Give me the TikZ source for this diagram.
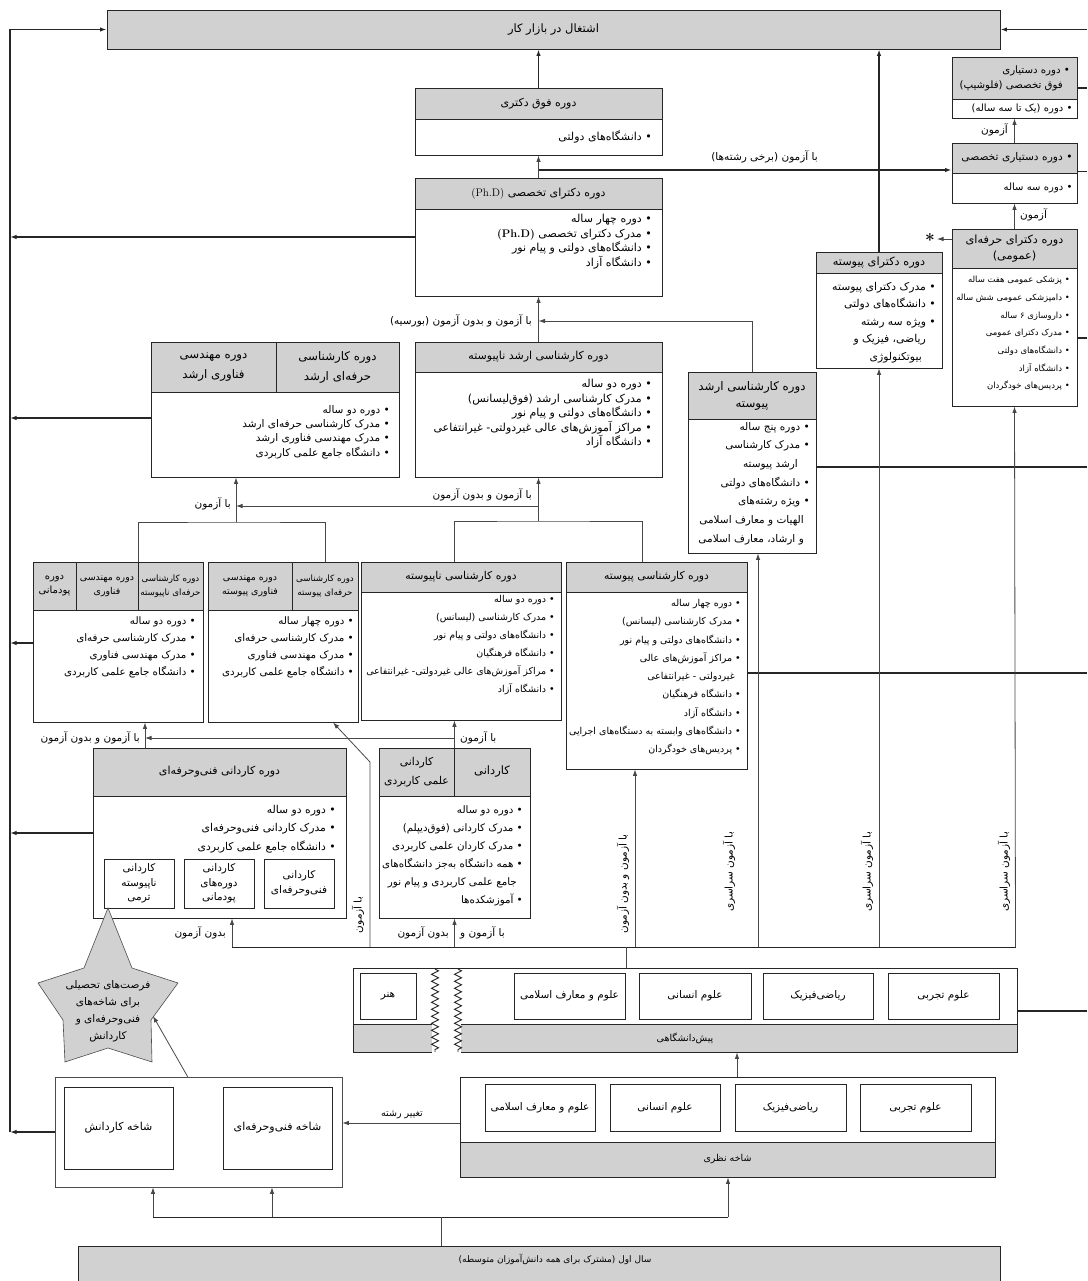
\documentclass[tikz,border=0pt]{standalone}
\usepackage{fontspec}
\usetikzlibrary{arrows.meta,decorations.pathmorphing}
\TeXXeTstate=1
\newfontfamily\fafont[Script=Arabic]{DejaVu Sans}
\newcommand{\rl}[1]{\beginR #1\endR}
\newcommand{\fs}[2]{\fafont\fontsize{#1}{#2}\selectfont}
\definecolor{hdgray}{gray}{0.82}
\definecolor{ln}{gray}{0.15}
\begin{document}
\begin{tikzpicture}[x=1pt, y=-1pt,
    hd/.style={draw=ln, fill=hdgray, line width=0.9pt, inner sep=0pt, align=center, font=\fs{11}{14}},
    bd/.style={draw=ln, line width=0.9pt, inner sep=0pt, align=right, font=\fs{10}{14}},
    sub/.style={draw=ln, line width=0.9pt, inner sep=0pt, align=center, font=\fs{10.5}{14.5}},
    lst/.style={align=right, inner sep=0pt, font=\fs{11}{14.5}},
    lbl/.style={inner sep=1pt, font=\fs{10.5}{12}},
    thk/.style={line width=1.8pt, draw=ln},
    thn/.style={line width=0.8pt, draw=black!72},
    >={Latex[length=6.5pt,width=4.5pt]}]
\useasboundingbox (0,0) rectangle (1087,1281);

\node[hd, minimum width=893pt, minimum height=39pt, font=\fs{11.5}{14}] (work) at (553.5,29.5) {\rl{اشتغال در بازار کار}};

\node[hd, minimum width=247pt, minimum height=31pt] (postH) at (538.5,103.5) {\rl{دوره فوق دکتری}};
\node[bd, minimum width=247pt, minimum height=36pt] (postB) at (538.5,137) {};
\node[lst, anchor=east] (postT) at (652,137) {\rl{• دانشگاه^^^^200cهای دولتی}};

\node[hd, minimum width=247pt, minimum height=31pt] (phdH) at (538.5,193.5) {\rl{دوره دکترای تخصصی {\rmfamily\beginL(Ph.D)\endL}}};
\node[bd, minimum width=247pt, minimum height=87pt] (phdB) at (538.5,252.5) {};
\node[lst, anchor=north east] (phdT) at (652,214) {\rl{• دوره چهار ساله}\\\rl{• مدرک دکترای تخصصی {\rmfamily\bfseries\beginL(Ph.D)\endL}}\\\rl{• دانشگاه^^^^200cهای دولتی و پیام نور}\\\rl{• دانشگاه آزاد}};

\node[hd, minimum width=125pt, minimum height=42pt, font=\fs{10.2}{15}] (felH) at (1014.5,78) {};
\node[lst, anchor=east, font=\fs{10.2}{15}] (felT) at (1070,78) {\rl{• دوره دستیاری}\\\rl{\hspace*{7pt}فوق تخصصی (فلوشیپ)}};
\node[bd, minimum width=125pt, minimum height=19pt, text width=116pt] (felB) at (1014.5,108.5) {\rl{• دوره (یک تا سه ساله)}};

\node[hd, minimum width=125pt, minimum height=30pt, text width=116pt, align=right, font=\fs{10.6}{14}] (resH) at (1014.5,158) {\rl{• دوره دستیاری تخصصی}};
\node[bd, minimum width=125pt, minimum height=30pt, text width=116pt] (resB) at (1014.5,188) {\rl{• دوره سه ساله}};

\node[hd, minimum width=125pt, minimum height=39pt, font=\fs{11.3}{16}] (dproH) at (1014.5,248.5) {\rl{دوره دکترای حرفه^^^^200cای}\\\rl{(عمومی)}};
\node[bd, minimum width=125pt, minimum height=138pt] (dproB) at (1014.5,337) {};
\node[lst, anchor=north east, font=\fs{8.5}{17.7}] (dproT) at (1070,276) {\rl{• پزشکی عمومی هفت ساله}\\\rl{• دامپزشکی عمومی شش ساله}\\\rl{• داروسازی ۶ ساله}\\\rl{• مدرک دکترای عمومی}\\\rl{• دانشگاه^^^^200cهای دولتی}\\\rl{• دانشگاه آزاد}\\\rl{• پردیس^^^^200cهای خودگردان}};

\node[hd, minimum width=126pt, minimum height=21pt, font=\fs{11.3}{13}] (dintH) at (879,262.5) {\rl{دوره دکترای پیوسته}};
\node[bd, minimum width=126pt, minimum height=95pt] (dintB) at (879,320.5) {};
\node[lst, anchor=north east, font=\fs{10.8}{17.5}] (dintT) at (936,282) {\rl{• مدرک دکترای پیوسته}\\\rl{• دانشگاه^^^^200cهای دولتی}\\\rl{• ویژه سه رشته}\\\rl{\hspace*{10pt}ریاضی، فیزیک و}\\\rl{\hspace*{14pt}بیوتکنولوژی}};

\node[hd, minimum width=128pt, minimum height=47pt, font=\fs{11.8}{17}] (mintH) at (752,395.5) {\rl{دوره کارشناسی ارشد}\\\rl{پیوسته}};
\node[bd, minimum width=128pt, minimum height=134pt] (mintB) at (752,486) {};
\node[lst, anchor=north east, font=\fs{10.5}{18.7}] (mintT) at (810,422) {\rl{• دوره پنج ساله}\\\rl{• مدرک کارشناسی}\\\rl{\hspace*{12pt}ارشد پیوسته}\\\rl{• دانشگاه^^^^200cهای دولتی}\\\rl{• ویژه رشته^^^^200cهای}\\\rl{\hspace*{6pt}الهیات و معارف اسلامی}\\\rl{\hspace*{6pt}و ارشاد، معارف اسلامی}};

\node[hd, minimum width=247pt, minimum height=30pt] (mncH) at (538.5,357) {\rl{دوره کارشناسی ارشد ناپیوسته}};
\node[bd, minimum width=247pt, minimum height=105pt] (mncB) at (538.5,424.5) {};
\node[lst, anchor=north east] (mncT) at (652,379) {\rl{• دوره دو ساله}\\\rl{• مدرک کارشناسی ارشد (فوق^^^^200cلیسانس)}\\\rl{• دانشگاه^^^^200cهای دولتی و پیام نور}\\\rl{• مراکز آموزش^^^^200cهای عالی غیردولتی- غیرانتفاعی}\\\rl{• دانشگاه آزاد}};

\node[hd, minimum width=125pt, minimum height=50pt, font=\fs{11.8}{20}] (mprof1) at (213.5,367) {\rl{دوره مهندسی}\\\rl{فناوری ارشد}};
\node[hd, minimum width=123pt, minimum height=50pt, font=\fs{11.8}{20}] (mprof2) at (337.5,367) {\rl{دوره کارشناسی}\\\rl{حرفه^^^^200cای ارشد}};
\node[bd, minimum width=248pt, minimum height=85pt] (mprofB) at (275,434.5) {};
\node[lst, anchor=north east, font=\fs{10.5}{14.3}] (mprofT) at (390,405) {\rl{• دوره دو ساله}\\\rl{• مدرک کارشناسی حرفه^^^^200cای ارشد}\\\rl{• مدرک مهندسی فناوری ارشد}\\\rl{• دانشگاه جامع علمی کاربردی}};

\node[hd, minimum width=43pt, minimum height=48pt, font=\fs{10}{14}] (ra1) at (54.5,586) {\rl{دوره}\\\rl{پودمانی}};
\node[hd, minimum width=62pt, minimum height=48pt, font=\fs{9.4}{14}] (ra2) at (107,586) {\rl{دوره مهندسی}\\\rl{فناوری}};
\node[hd, minimum width=65pt, minimum height=48pt, font=\fs{8.7}{14}] (ra3) at (170.5,586) {\rl{دوره کارشناسی}\\\rl{حرفه^^^^200cای ناپیوسته}};
\node[bd, minimum width=170pt, minimum height=112pt] (raB) at (118,666) {};
\node[lst, anchor=north east, font=\fs{10.3}{17.3}] (raT) at (196,616) {\rl{• دوره دو ساله}\\\rl{• مدرک کارشناسی حرفه^^^^200cای}\\\rl{• مدرک مهندسی فناوری}\\\rl{• دانشگاه جامع علمی کاربردی}};

\node[hd, minimum width=84pt, minimum height=48pt, font=\fs{9.4}{14}] (rb1) at (250,586) {\rl{دوره مهندسی}\\\rl{فناوری پیوسته}};
\node[hd, minimum width=66pt, minimum height=48pt, font=\fs{8.7}{14}] (rb2) at (325,586) {\rl{دوره کارشناسی}\\\rl{حرفه^^^^200cای پیوسته}};
\node[bd, minimum width=150pt, minimum height=112pt] (rbB) at (283,666) {};
\node[lst, anchor=north east, font=\fs{10.3}{17.3}] (rbT) at (354,616) {\rl{• دوره چهار ساله}\\\rl{• مدرک کارشناسی حرفه^^^^200cای}\\\rl{• مدرک مهندسی فناوری}\\\rl{• دانشگاه جامع علمی کاربردی}};

\node[hd, minimum width=200pt, minimum height=30pt, font=\fs{10.8}{14}] (rcH) at (461,577) {\rl{دوره کارشناسی ناپیوسته}};
\node[bd, minimum width=200pt, minimum height=128pt] (rcB) at (461,656) {};
\node[lst, anchor=north east, font=\fs{9.5}{18}] (rcT) at (555,595) {\rl{• دوره دو ساله}\\\rl{• مدرک کارشناسی (لیسانس)}\\\rl{• دانشگاه^^^^200cهای دولتی و پیام نور}\\\rl{• دانشگاه فرهنگیان}\\\rl{• مراکز آموزش^^^^200cهای عالی غیردولتی- غیرانتفاعی}\\\rl{• دانشگاه آزاد}};

\node[hd, minimum width=181pt, minimum height=30pt, font=\fs{10.8}{14}] (rdH) at (656.5,577) {\rl{دوره کارشناسی پیوسته}};
\node[bd, minimum width=181pt, minimum height=177pt] (rdB) at (656.5,680.5) {};
\node[lst, anchor=north east, font=\fs{9.5}{18.3}] (rdT) at (741,599) {\rl{• دوره چهار ساله}\\\rl{• مدرک کارشناسی (لیسانس)}\\\rl{• دانشگاه^^^^200cهای دولتی و پیام نور}\\\rl{• مراکز آموزش^^^^200cهای عالی}\\\rl{\hspace*{6pt}غیردولتی - غیرانتفاعی}\\\rl{• دانشگاه فرهنگیان}\\\rl{• دانشگاه آزاد}\\\rl{• دانشگاه^^^^200cهای وابسته به دستگاه^^^^200cهای اجرایی}\\\rl{• پردیس^^^^200cهای خودگردان}};

\node[hd, minimum width=253pt, minimum height=48pt] (kfH) at (219.5,772) {\rl{دوره کاردانی فنی^^^^200cوحرفه^^^^200cای}};
\node[bd, minimum width=253pt, minimum height=122pt] (kfB) at (219.5,857) {};
\node[lst, anchor=north east, font=\fs{10.8}{18.5}] (kfT) at (336,805) {\rl{• دوره دو ساله}\\\rl{• مدرک کاردانی فنی^^^^200cوحرفه^^^^200cای}\\\rl{• دانشگاه جامع علمی کاربردی}};
\node[sub, minimum width=70pt, minimum height=49pt] (kf1) at (299,883.5) {\rl{کاردانی}\\\rl{فنی^^^^200cوحرفه^^^^200cای}};
\node[sub, minimum width=70pt, minimum height=49pt] (kf2) at (219,883.5) {\rl{کاردانی}\\\rl{دوره^^^^200cهای}\\\rl{پودمانی}};
\node[sub, minimum width=70pt, minimum height=49pt] (kf3) at (139,883.5) {\rl{کاردانی}\\\rl{ناپیوسته}\\\rl{ترمی}};

\node[hd, minimum width=75pt, minimum height=48pt, font=\fs{10.8}{19}] (kd1) at (416.5,772) {\rl{کاردانی}\\\rl{علمی کاربردی}};
\node[hd, minimum width=76pt, minimum height=48pt, font=\fs{11.5}{14}] (kd2) at (492,772) {\rl{کاردانی}};
\node[bd, minimum width=151pt, minimum height=122pt] (kdB) at (454.5,857) {};
\node[lst, anchor=north east, font=\fs{10.3}{18}] (kdT) at (523,805) {\rl{• دوره دو ساله}\\\rl{• مدرک کاردانی (فوق^^^^200cدیپلم)}\\\rl{• مدرک کاردان علمی کاربردی}\\\rl{• همه دانشگاه به^^^^200cجز دانشگاه^^^^200cهای}\\\rl{\hspace*{6pt}جامع علمی کاربردی و پیام نور}\\\rl{• آموزشکده^^^^200cها}};

\node[bd, minimum width=664pt, minimum height=84pt] (pre) at (685,1010) {};
\node[hd, minimum width=664pt, minimum height=28pt, font=\fs{9.5}{12}] (preBand) at (685,1038) {\rl{پیش^^^^200cدانشگاهی}};
\node[sub, minimum width=56pt, minimum height=46pt] (p1) at (388,996) {\rl{هنر}};
\node[sub, minimum width=111pt, minimum height=46pt] (p2) at (569.5,996) {\rl{علوم و معارف اسلامی}};
\node[sub, minimum width=112pt, minimum height=46pt] (p3) at (695,996) {\rl{علوم انسانی}};
\node[sub, minimum width=110pt, minimum height=46pt] (p4) at (818,996) {\rl{ریاضی^^^^200cفیزیک}};
\node[sub, minimum width=111pt, minimum height=46pt] (p5) at (943.5,996) {\rl{علوم تجربی}};
\fill[white] (432,969.5) rectangle (461,1053);
\draw[ln, line width=0.9pt, decorate, decoration={zigzag, segment length=7pt, amplitude=3.5pt}] (435,969) -- (435,1052);
\draw[ln, line width=0.9pt, decorate, decoration={zigzag, segment length=7pt, amplitude=3.5pt}] (458,969) -- (458,1052);

\node[bd, minimum width=535pt, minimum height=100pt] (nz) at (727.5,1127) {};
\node[hd, minimum width=535pt, minimum height=35pt, font=\fs{9.5}{12}] (nzBand) at (727.5,1159.5) {\rl{شاخه نظری}};
\node[sub, minimum width=110pt, minimum height=47pt] (n1) at (540,1107.5) {\rl{علوم و معارف اسلامی}};
\node[sub, minimum width=110pt, minimum height=47pt] (n2) at (665,1107.5) {\rl{علوم انسانی}};
\node[sub, minimum width=111pt, minimum height=47pt] (n3) at (790.5,1107.5) {\rl{ریاضی^^^^200cفیزیک}};
\node[sub, minimum width=111pt, minimum height=47pt] (n4) at (915.5,1107.5) {\rl{علوم تجربی}};

\node[bd, draw=black!70, line width=0.7pt, minimum width=287pt, minimum height=110pt] (lb) at (198.5,1132) {};
\node[sub, minimum width=109pt, minimum height=82pt, font=\fs{11}{14}] (lb1) at (118.5,1128) {\rl{شاخه کاردانش}};
\node[sub, minimum width=109pt, minimum height=82pt, font=\fs{11}{14}] (lb2) at (277.5,1128) {\rl{شاخه فنی^^^^200cوحرفه^^^^200cای}};

\node[hd, minimum width=922pt, minimum height=60pt, anchor=north] (fy) at (539,1246) {};
\node[lbl, font=\fs{9}{12}] (fyT) at (555,1259) {\rl{سال اول (مشترک برای همه دانش^^^^200cآموزان متوسطه)}};

\filldraw[fill=hdgray, draw=black!70, line width=0.6pt] (108,908) -- (132,968) -- (178,983) -- (151,1020) -- (152,1062) -- (108,1048) -- (65,1062) -- (63,1020) -- (38,983) -- (84,968) -- cycle;
\node[align=center, inner sep=0pt, font=\fs{10.5}{17}] (starT) at (108,1011) {\rl{فرصت^^^^200cهای تحصیلی}\\\rl{برای شاخه^^^^200cهای}\\\rl{فنی^^^^200cوحرفه^^^^200cای و}\\\rl{کاردانش}};
\coordinate (starR) at (153,1016);

\node[font=\bfseries\LARGE, inner sep=0pt] (ast) at (930,240) {*};
\coordinate (astTip) at (937,239);

\node[lbl, anchor=east] (lab1) at (819,157) {\rl{با آزمون (برخی رشته^^^^200cها)}};
\node[lbl, anchor=east] (lab2) at (1009,130) {\rl{آزمون}};
\node[lbl, anchor=west] (lab3) at (1019,215) {\rl{آزمون}};
\node[lbl, anchor=east] (lab4) at (533,321) {\rl{با آزمون و بدون آزمون (بورسیه)}};
\node[lbl, anchor=east] (lab5) at (533,495) {\rl{با آزمون و بدون آزمون}};
\node[lbl, anchor=east] (lab6) at (232,504) {\rl{با آزمون}};
\node[lbl, anchor=west] (lab7) at (459,738) {\rl{با آزمون}};
\node[lbl, anchor=east] (lab8) at (141,738) {\rl{با آزمون و بدون آزمون}};
\node[lbl, anchor=east] (lab9) at (227,933) {\rl{بدون آزمون}};
\node[lbl, rotate=90] (lab10) at (358,915) {\rl{با آزمون}};
\node[lbl, anchor=west] (lab11) at (459,933) {\rl{با آزمون و}};
\node[lbl, anchor=east] (lab12) at (450,933) {\rl{بدون آزمون}};
\node[lbl, rotate=90] (lab13) at (623,884) {\rl{با آزمون و بدون آزمون}};
\node[lbl, rotate=90] (lab14) at (729,872) {\rl{با آزمون سراسری}};
\node[lbl, rotate=90] (lab15) at (867,872) {\rl{با آزمون سراسری}};
\node[lbl, rotate=90] (lab16) at (1004,872) {\rl{با آزمون سراسری}};
\node[lbl, anchor=south, font=\fs{9.5}{12}] (lab17) at (402,1120) {\rl{تغییر رشته}};

\coordinate (s0) at (10,1132);
\coordinate (s1) at (10,237);
\coordinate (s2) at (10,418);
\coordinate (s3) at (10,643);
\coordinate (s4) at (10,833);
\draw[thk,->] (s0) |- (work.west);
\draw[thk,->] (s1 -| phdB.west) -- (s1);
\draw[thk,->] (s2 -| mprofB.west) -- (s2);
\draw[thk,->] (s3 -| raB.west) -- (s3);
\draw[thk,->] (s4 -| kfB.west) -- (s4);
\draw[thk,->] (lb.west) -- (s0);

\coordinate (e0) at (1087,29.5);
\coordinate (e1) at (1087,88);
\coordinate (e2) at (1087,171.5);
\coordinate (e3) at (1087,338);
\coordinate (e4) at (1087,467);
\coordinate (e5) at (1087,673);
\coordinate (e6) at (1087,1011);
\draw[thk,->] (e0) -- (work.east);
\draw[thk] (e1 -| felH.east) -- (e1);
\draw[thk] (e2 -| resH.east) -- (e2);
\draw[thk] (e3 -| dproB.east) -- (e3);
\draw[thk] (e4 -| mintB.east) -- (e4);
\draw[thk] (e5 -| rdB.east) -- (e5);
\draw[ln, line width=1.1pt] (e6 -| pre.east) -- (e6);

\draw[thk,->] (postH.north) -- (postH.north |- work.south);
\draw[thk,->] (dintH.north) -- (dintH.north |- work.south);
\draw[thn,->] (phdH.north) -- (postB.south);
\coordinate (j1) at (538.5,170);
\draw[thk,->] (j1) -- (j1 -| resH.west);
\draw[thn,->] (resH.north) -- (felB.south);
\draw[thn,->] (dproH.north) -- (resB.south);
\draw[thn,->] (astTip -| dproH.west) -- (astTip);

\coordinate (j2) at (538.5,321);
\draw[thn,->] (mncH.north) -- (phdB.south);
\draw[thn,->] (mintH.north) |- (j2);

\coordinate (j3) at (538.5,521);
\coordinate (j4) at (236,522);
\coordinate (j5) at (538.5,506);
\draw[thn] ([xshift=-7pt]rcH.north) |- (j3) -| ([xshift=-14.5pt]rdH.north);
\draw[thn,->] (j3) -- (mncB.south);
\draw[thn,->] (j5) -- (j5 -| j4);
\draw[thn] ([xshift=0.5pt]ra3.north west) |- (j4) -| (rb2.north);
\draw[thn,->] (j4) -- (j4 |- mprofB.south);

\coordinate (j6) at (454,738);
\coordinate (j7) at (145,738);
\draw[thn,->] (kd1.north east) -- (kd1.north east |- rcB.south);
\draw[thn,->] (j6) -- (j7);
\draw[thn,->] (j7 |- kfH.north) -- (j7 |- raB.south);

\coordinate (c0) at (232,947);
\coordinate (c1) at (370,947);
\coordinate (c2) at (454.5,947);
\coordinate (c3) at (635,947);
\coordinate (c4) at (758,947);
\coordinate (c5) at (879,947);
\coordinate (c6) at (1015.5,947);
\draw[ln, line width=1pt] (c0) -- (c6);
\draw[thn,->] (c0) -- (c0 |- kfB.south);
\draw[thn,->] (c1) -- ++(0,-185) -- ([xshift=50pt]rbB.south);
\draw[thn,->] (c2) -- (kdB.south);
\draw[thn,->] (c3) -- (c3 |- rdB.south);
\draw[thn,->] (c4) -- (c4 |- mintB.south);
\draw[thn,->] (c5) -- (dintB.south);
\draw[thn,->] (c6) -- (dproB.south);
\draw[thn] ([xshift=-59pt]pre.north) -- ([xshift=-59pt]pre.north |- c0);

\draw[thn,->] ([xshift=9.5pt]nz.north) -- ([xshift=9.5pt]nz.north |- pre.south);
\coordinate (t1) at (460,1123);
\draw[thn,->] (t1) -- (t1 -| lb.east);
\draw[thn,->] ([xshift=133pt]lb.north west) -- (starR);

\coordinate (b0) at (441,1217);
\coordinate (b1) at (153,1217);
\coordinate (b2) at (272,1217);
\coordinate (b3) at (728,1217);
\draw[ln, line width=1pt] (b1) -- (b3);
\draw[thn] (fy.north -| b0) -- (b0);
\draw[thn,->] (b1) -- (b1 |- lb.south);
\draw[thn,->] (b2) -- (b2 |- lb.south);
\draw[thn,->] (b3) -- (b3 |- nz.south);
\end{tikzpicture}
\end{document}
